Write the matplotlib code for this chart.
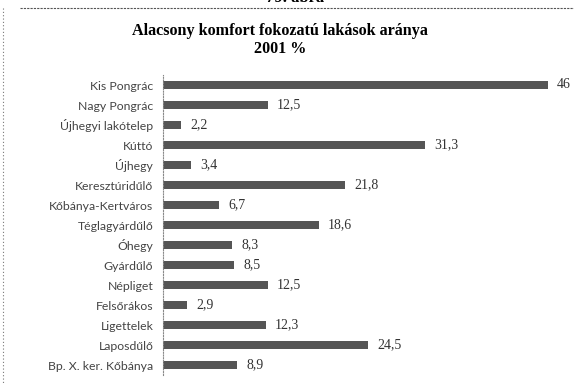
import matplotlib
matplotlib.use("Agg")
import matplotlib.pyplot as plt
import numpy as np

districts = ["Kis Pongrác", "Nagy Pongrác", "Újhegyi lakótelep", "Kúttó", "Újhegy",
             "Keresztúridűlő", "Kőbánya-Kertváros", "Téglagyárdűlő", "Óhegy",
             "Gyárdűlő", "Népliget", "Felsőrákos", "Ligettelek", "Laposdűlő",
             "Bp. X. ker. Kőbánya"]
shares = [46, 12.5, 2.2, 31.3, 3.4, 21.8, 6.7, 18.6, 8.3, 8.5, 12.5, 2.9, 12.3, 24.5, 8.9]

fig = plt.figure(figsize=(5.74, 3.85), dpi=100)
W, H = 574, 385

# page decorations: figure number running off the top, dashed frame
fig.text(295 / W, 1 - (-2) / H, "79. ábra", ha="center", va="center",
         family="Liberation Serif", weight="bold", fontsize=12)
fig.add_artist(plt.Line2D([20 / W, 1], [1 - 8 / H] * 2, color="#555555",
                          lw=0.8, ls=(0, (2, 1))))
fig.add_artist(plt.Line2D([3 / W] * 2, [1 - 8 / H, 0], color="#777777",
                          lw=0.8, ls=(0, (1, 2))))

fig.text(280 / W, 1 - 31 / H, "Alacsony komfort fokozatú lakások aránya",
         ha="center", va="center", family="Liberation Serif", weight="bold", fontsize=11.6)
fig.text(280 / W, 1 - 49 / H, "2001 %", ha="center", va="center",
         family="Liberation Serif", weight="bold", fontsize=11.6)

ax = fig.add_axes([163 / W, 1 - 375 / H, (565 - 163) / W, 300 / H])
y = np.arange(len(districts))
ax.barh(y, shares, height=0.36, color="#555555", edgecolor="none")
ax.set_xlim(0, (565 - 163) / 8.37)
ax.set_ylim(len(districts) - 0.5, -0.5)

for yi, v in zip(y, shares):
    txt = f"{v:g}".replace(".", ",")
    ax.text(v + 1.1, yi, txt, va="center", ha="left", family="Liberation Serif",
            fontsize=10, color="#333333")

ax.set_yticks(y)
ax.set_yticklabels(districts, fontsize=8.8, color="#444444", family="Lato")
ax.tick_params(axis="y", length=0, pad=7)
ax.set_xticks([])
for s in ["top", "right", "bottom"]:
    ax.spines[s].set_visible(False)
ax.spines["left"].set_color("#888888")
ax.spines["left"].set_linestyle((0, (1, 1.5)))
ax.spines["left"].set_linewidth(0.8)

fig.savefig("out.png", dpi=100)
